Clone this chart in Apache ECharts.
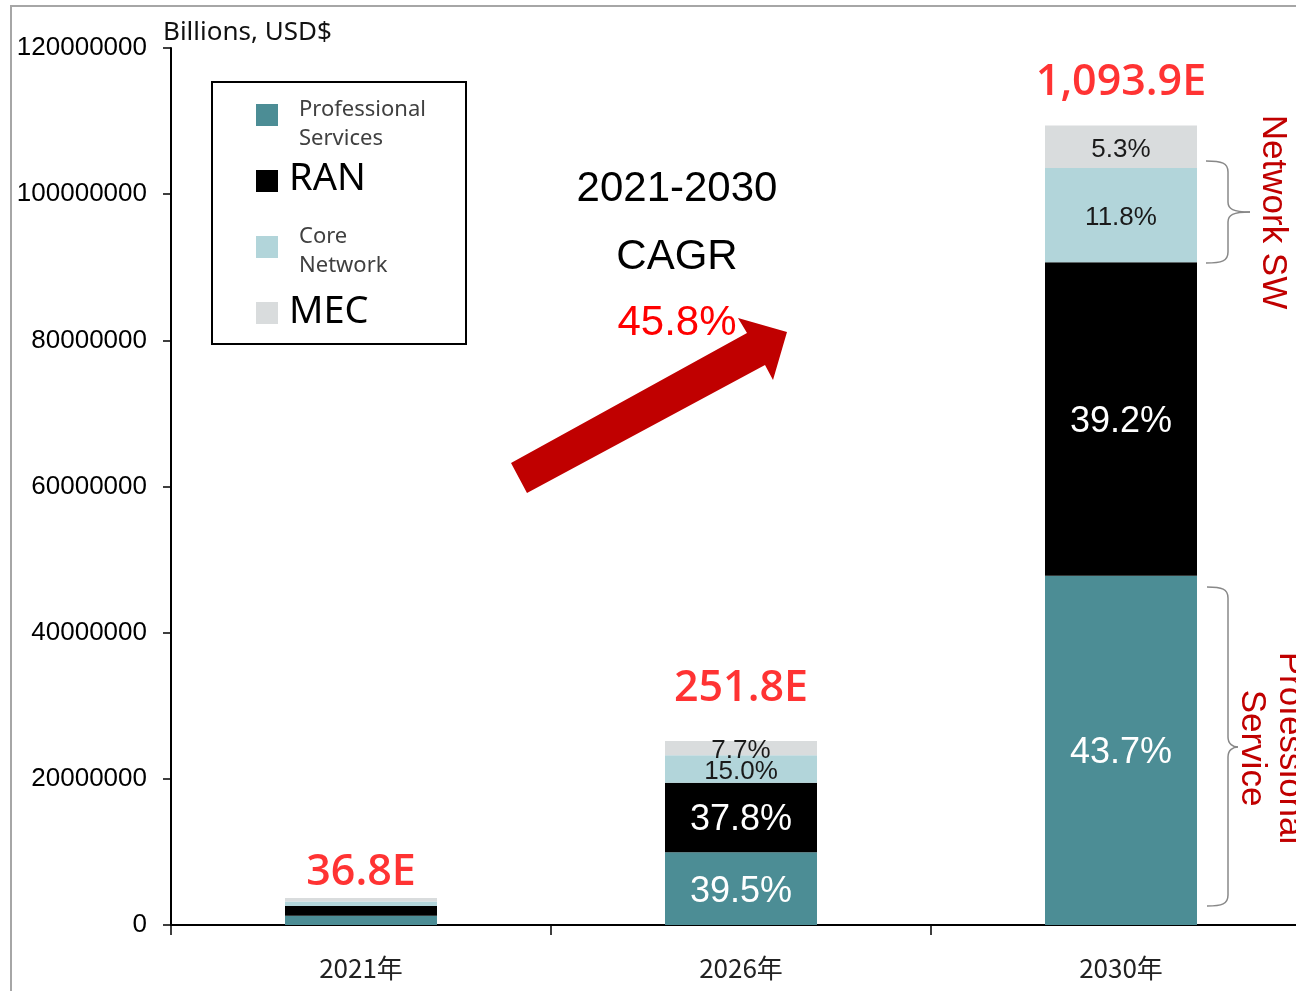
<!DOCTYPE html>
<html>
<head>
<meta charset="utf-8">
<title>Edge market 2021-2030</title>
<script src="https://cdn.jsdelivr.net/npm/echarts@6/dist/echarts.min.js"></script>
<style>
  html, body { margin: 0; padding: 0; background: #fff; }
  #chart { width: 1296px; height: 991px; }
</style>
</head>
<body>
<div id="chart"></div>
<script>
// data
const categories = ["2021年", "2026年", "2030年"];
const seriesNames = ["Professional Services", "RAN", "Core Network", "MEC"];
const legendLabels = ["Professional\nServices", "RAN", "Core\nNetwork", "MEC"];

const proServices = [1250000, 9946000, 47800000];
const ran = [1350000, 9518000, 42880000];
const coreNetwork = [600000, 3777000, 12910000];
const mec = [480000, 1939000, 5800000];

const proPct = ["", "39.5%", "43.7%"];
const ranPct = ["", "37.8%", "39.2%"];
const corePct = ["", "15.0%", "11.8%"];
const mecPct = ["", "7.7%", "5.3%"];

const totalLabels = ["36.8E", "251.8E", "1,093.9E"];
const cagrLines = ["2021-2030", "CAGR", "45.8%"];

const yMin = 0;
const yMax = 120000000;
const yStep = 20000000;

const colors = ["#4c8d95", "#000000", "#b2d5da", "#d9dcdd"];

const chart = echarts.init(document.getElementById("chart"));

const valueSets = [proServices, ran, coreNetwork, mec];
const pctSets = [proPct, ranPct, corePct, mecPct];
const totals = categories.map((c, i) =>
  valueSets.reduce((s, arr) => s + arr[i], 0)
);
// how far above the bar top each total sits
const totalOffsets = [25, 52, 43];

const barSeries = seriesNames.map((name, k) => ({
  name: name,
  type: "bar",
  stack: "total",
  barWidth: 152,
  itemStyle: { color: colors[k] },
  label: {
    show: true,
    position: "inside",
    offset: [0, 3],
    formatter: p => pctSets[k][p.dataIndex],
    color: k < 2 ? "#ffffff" : "#1a1a1a",
    fontSize: k < 2 ? 36 : 26,
    fontFamily: "Liberation Sans"
  },
  data: valueSets[k]
}));

const totalSeries = {
  name: "total",
  type: "scatter",
  symbolSize: 0,
  silent: true,
  label: {
    show: true,
    position: "inside",
    formatter: p => totalLabels[p.dataIndex],
    color: "#ff0000",
    fontSize: 43,
    fontWeight: 600,
    fontFamily: "Open Sans"
  },
  data: totals.map((v, i) => ({
    value: v,
    label: { offset: [0, -totalOffsets[i]] }
  }))
};

// hand-drawn legend box
const legendY = [104, 170, 236, 302];
const legendTextY = [124, 179, 251, 312];
const legendGraphic = [
  {
    type: "rect",
    shape: { x: 212, y: 82, width: 254, height: 262 },
    style: { fill: null, stroke: "#000", lineWidth: 2 }
  }
];
legendLabels.forEach((txt, k) => {
  const big = txt.indexOf("\n") < 0;
  legendGraphic.push({
    type: "rect",
    shape: { x: 256, y: legendY[k], width: 22, height: 22 },
    style: { fill: colors[k] }
  });
  legendGraphic.push({
    type: "text",
    x: big ? 289 : 299,
    y: legendTextY[k],
    style: {
      text: txt,
      fill: big ? "#000" : "#404040",
      font: (big ? "38px" : "22px") + " 'Noto Sans'",
      lineHeight: 29,
      align: "left",
      textAlign: "left",
      verticalAlign: "middle",
      textVerticalAlign: "middle"
    }
  });
});

// curly brace made of bezier pieces and straight lines
const brace = (x0, x1, xt, yTop, yMid, yBot) => {
  const st = { fill: null, stroke: "#888", lineWidth: 1.5 };
  return [
    { type: "bezierCurve", shape: { x1: x0, y1: yTop, cpx1: x1 - 6, cpy1: yTop, cpx2: x1, cpy2: yTop + 2, x2: x1, y2: yTop + 11 }, style: st },
    { type: "line", shape: { x1: x1, y1: yTop + 11, x2: x1, y2: yMid - 10 }, style: st },
    { type: "bezierCurve", shape: { x1: x1, y1: yMid - 10, cpx1: x1, cpy1: yMid - 3, cpx2: x1 + 5, cpy2: yMid, x2: xt, y2: yMid }, style: st },
    { type: "bezierCurve", shape: { x1: xt, y1: yMid, cpx1: x1 + 5, cpy1: yMid, cpx2: x1, cpy2: yMid + 3, x2: x1, y2: yMid + 10 }, style: st },
    { type: "line", shape: { x1: x1, y1: yMid + 10, x2: x1, y2: yBot - 11 }, style: st },
    { type: "bezierCurve", shape: { x1: x1, y1: yBot - 11, cpx1: x1, cpy1: yBot - 2, cpx2: x1 - 6, cpy2: yBot, x2: x0, y2: yBot }, style: st }
  ];
};

const centerText = (txt, x, y, size, color) => ({
  type: "text",
  x: x,
  y: y,
  style: {
    text: txt,
    fill: color,
    font: size + "px 'Liberation Sans'",
    align: "center",
    textAlign: "center",
    verticalAlign: "middle",
    textVerticalAlign: "middle"
  }
});

const graphic = [
  // outer frame
  {
    type: "rect",
    shape: { x: 11, y: 6, width: 1400, height: 1100 },
    style: { fill: null, stroke: "#a6a6a6", lineWidth: 2 },
    z: -10
  },
  {
    type: "text",
    x: 163,
    y: 33,
    style: {
      text: "Billions, USD$",
      fill: "#111",
      font: "26px 'Noto Sans'",
      align: "left",
      textAlign: "left",
      verticalAlign: "middle",
      textVerticalAlign: "middle"
    }
  },
  centerText(cagrLines[0], 677, 189, 42, "#000"),
  centerText(cagrLines[1], 677, 257, 42, "#000"),
  centerText(cagrLines[2], 677, 323, 42, "#ff0000"),
  {
    type: "polygon",
    shape: {
      points: [[511, 463], [747, 333], [738, 318], [787, 332], [773, 380], [765, 365], [527, 493]]
    },
    style: { fill: "#c00000" }
  },
  {
    type: "text",
    x: 1273,
    y: 212,
    rotation: -Math.PI / 2,
    style: {
      text: "Network SW",
      fill: "#c00000",
      font: "35px 'Liberation Sans'",
      align: "center",
      textAlign: "center",
      verticalAlign: "middle",
      textVerticalAlign: "middle"
    }
  },
  {
    type: "text",
    x: 1271,
    y: 748,
    rotation: -Math.PI / 2,
    style: {
      text: "Professional\nService",
      fill: "#c00000",
      font: "35px 'Liberation Sans'",
      lineHeight: 38,
      align: "center",
      textAlign: "center",
      verticalAlign: "middle",
      textVerticalAlign: "middle"
    }
  }
]
  .concat(brace(1206, 1228, 1250, 161, 212, 263))
  .concat(brace(1207, 1228, 1238, 587, 747, 906))
  .concat(legendGraphic);

const option = {
  animation: false,
  backgroundColor: "#fff",
  grid: {
    left: 171,
    width: 1140,
    top: 48,
    bottom: 66,
    outerBoundsMode: "none"
  },
  xAxis: {
    type: "category",
    data: categories,
    axisLine: { lineStyle: { color: "#000", width: 2 } },
    axisTick: { show: true, length: 10, lineStyle: { color: "#000", width: 1.5 } },
    axisLabel: {
      margin: 30,
      fontSize: 26,
      color: "#222",
      fontFamily: "Noto Sans CJK TC"
    }
  },
  yAxis: {
    type: "value",
    min: yMin,
    max: yMax,
    interval: yStep,
    splitLine: { show: false },
    axisLine: { show: true, lineStyle: { color: "#000", width: 2 } },
    axisTick: { show: true, length: 8, lineStyle: { color: "#000", width: 1.5 } },
    axisLabel: {
      margin: 24,
      fontSize: 26,
      color: "#000",
      fontFamily: "Liberation Sans",
      formatter: v => String(v)
    }
  },
  series: barSeries.concat([totalSeries]),
  graphic: graphic
};

chart.setOption(option);
</script>
</body>
</html>
